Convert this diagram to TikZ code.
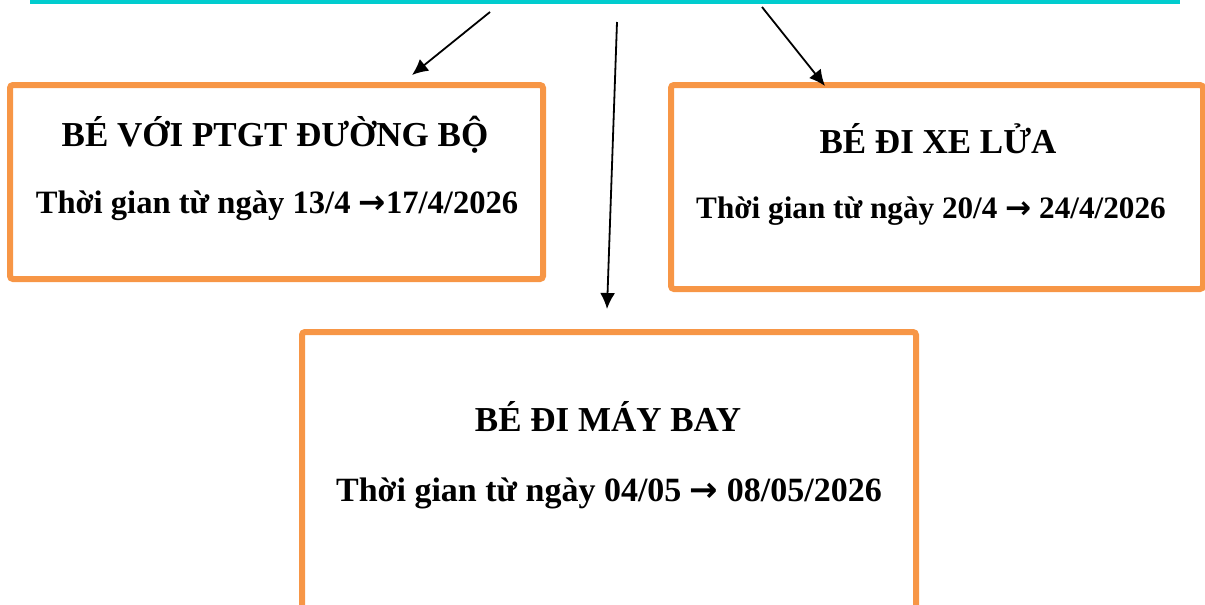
\documentclass[tikz,border=0pt]{standalone}
\usepackage{fontspec}
\setmainfont{Liberation Serif}
\newfontfamily\arrowfont{DejaVu Sans}
\usetikzlibrary{arrows.meta}
\definecolor{cam}{RGB}{247,150,70}
\definecolor{xanh}{RGB}{0,204,206}
\tikzset{
  khung/.style={draw=cam, line width=3pt, rounded corners=1.5pt, inner sep=0pt},
  tieude/.style={font=\bfseries\fontsize{17.5}{20}\selectfont},
  ngay/.style={font=\bfseries\fontsize{#1}{19}\selectfont},
  ngay/.default=16.3,
  muiten/.style={-{Latex[length=8pt,width=7.5pt]}, line width=0.9pt}
}
\newcommand{\mt}{{\arrowfont\bfseries →}}
\begin{document}
\begin{tikzpicture}[x=0.5pt, y=-0.5pt]
\useasboundingbox (0,0) rectangle (1205,605);
% thanh ngang tren cung
\coordinate (tL) at (30,2);
\coordinate (tR) at (1180,2);
\draw[xanh, line width=2.2pt] (tL) -- (tR);
% ba khung
\node (b1) at (276.5,182) [khung, minimum width=266.5pt, minimum height=97pt] {};
\node (b2) at (937,187) [khung, minimum width=266pt, minimum height=102pt] {};
\node (b3) at (609,471) [khung, minimum width=307pt, minimum height=139pt] {};
% chu trong khung
\node (t1) at (275,135) [tieude] {BÉ VỚI PTGT ĐƯỜNG BỘ};
\node (d1) at (277,206) [ngay] {Thời gian từ ngày 13/4 \mt17/4/2026};
\node (t2) at (938,139) [tieude] {BÉ ĐI XE LỬA};
\node (d2) at (931,211) [ngay=15.6] {Thời gian từ ngày 20/4 \mt{} 24/4/2026};
\node (t3) at (608,417) [tieude] {BÉ ĐI MÁY BAY};
\node (d3) at (609,493) [ngay=17] {Thời gian từ ngày 04/05 \mt{} 08/05/2026};
% mui ten
\coordinate (s1) at (490,12);
\coordinate (e1) at (412,75);
\coordinate (s2) at (617,22);
\coordinate (e2) at (607,309);
\coordinate (s3) at (762,7);
\coordinate (e3) at (825,86);
\draw[muiten] (s1) -- (e1);
\draw[muiten] (s2) -- (e2);
\draw[muiten] (s3) -- (e3);
\end{tikzpicture}
\end{document}
